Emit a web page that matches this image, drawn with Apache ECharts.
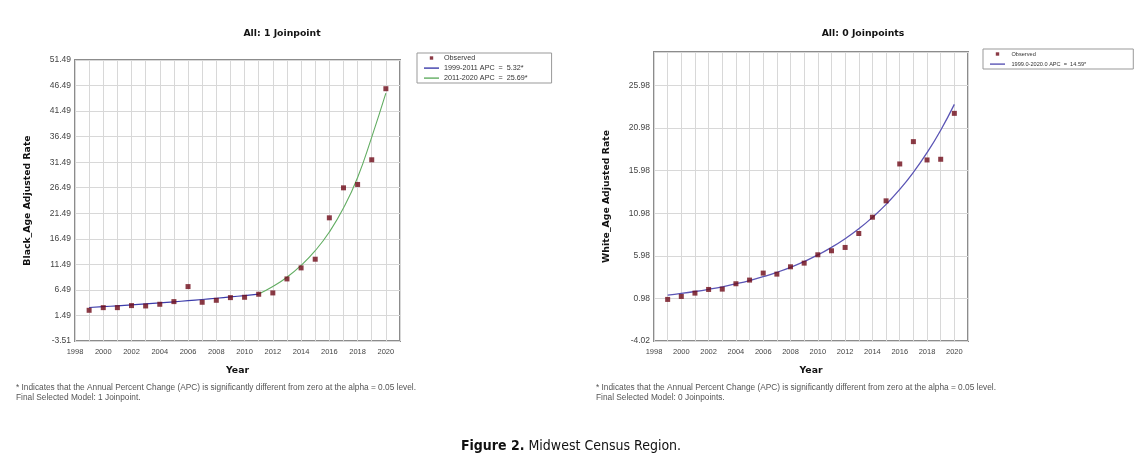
<!DOCTYPE html>
<html><head><meta charset="utf-8">
<script src="https://cdn.jsdelivr.net/npm/echarts@6/dist/echarts.min.js"></script>
<style>html,body{margin:0;padding:0;background:#fff}#c{width:1141px;height:459px}</style>
</head><body><div id="c"></div>
<script>
// ---- data ----
const years = [1999,2000,2001,2002,2003,2004,2005,2006,2007,2008,2009,2010,2011,2012,2013,2014,2015,2016,2017,2018,2019,2020];
const blackObserved = [2.50,3.02,3.02,3.42,3.35,3.68,4.20,7.14,4.07,4.46,4.98,5.05,5.64,5.90,8.64,10.80,12.50,20.60,26.47,27.13,31.96,45.87];
const blackFitYears1 = [1999,2000,2001,2002,2003,2004,2005,2006,2007,2008,2009,2010,2011];
const blackFit1 = [3.05,3.21,3.38,3.56,3.75,3.95,4.16,4.38,4.61,4.86,5.12,5.39,5.68];
const blackFitYears2 = [2011,2012,2013,2014,2015,2016,2017,2018,2019,2020];
const blackFit2 = [5.68,7.14,8.97,11.28,14.17,17.82,22.5,28.5,36.4,45.0];
const whiteObserved = [0.86,1.21,1.60,2.03,2.07,2.70,3.13,3.95,3.83,4.69,5.12,6.10,6.57,6.96,8.60,10.51,12.43,16.76,19.38,17.23,17.31,22.70];
const whiteFit = [1.36,1.56,1.79,2.05,2.34,2.69,3.08,3.53,4.04,4.63,5.31,6.08,6.97,7.99,9.15,10.49,12.02,13.77,15.78,18.08,20.72,23.75];
const blackFitName1 = '1999-2011 APC  =  5.32*';
const blackFitName2 = '2011-2020 APC  =  25.69*';
const whiteFitName = '1999.0-2020.0 APC  =  14.59*';
const leftTitle = 'All: 1 Joinpoint';
const rightTitle = 'All: 0 Joinpoints';
const leftYName = 'Black_Age Adjusted Rate';
const rightYName = 'White_Age Adjusted Rate';
const xName = 'Year';
const footLine1 = '* Indicates that the Annual Percent Change (APC) is significantly different from zero at the alpha = 0.05 level.';
const leftFoot2 = 'Final Selected Model: 1 Joinpoint.';
const rightFoot2 = 'Final Selected Model: 0 Joinpoints.';
const leftYRange = [-3.51, 51.49];
const rightYRange = [-4.02, 29.9];
const xRange = [1998, 2021];

const pair = (xs, ys) => xs.map((x, i) => [x, ys[i]]);
const dotIcon = 'path://M0 0M15 8M5.8 2.3h3.4v3.4h-3.4z';
const lineIcon = 'path://M0 0M15 8M0 3.4h15v1.4h-15z';
const obsColor = '#6e0a18';
const gridColor = '#d8d8d8';

function xAxis(gridIndex) {
  return {
    type: 'value', gridIndex, min: xRange[0], max: xRange[1], interval: 1,
    name: xName, nameLocation: 'middle', nameGap: 25,
    nameTextStyle: { fontFamily: 'DejaVu Sans', fontWeight: 'bold', fontSize: 9.3, color: '#111' },
    axisLine: { show: false }, axisTick: { show: false },
    axisLabel: { margin: 7, fontFamily: 'Liberation Sans', fontSize: 7.5, color: '#444',
      formatter: v => (Math.abs(v - Math.round(v)) < 1e-6 && Math.round(v) % 2 === 0) ? String(Math.round(v)) : '' },
    splitLine: { show: true, lineStyle: { color: gridColor, width: 1 } }
  };
}
function yAxis(gridIndex, range, name) {
  return {
    type: 'value', gridIndex, min: range[0], max: range[1], interval: 5,
    name, nameLocation: 'middle', nameGap: 43, nameRotate: 90,
    nameTextStyle: { fontFamily: 'DejaVu Sans', fontWeight: 'bold', fontSize: 9.3, color: '#111' },
    axisLine: { show: false }, axisTick: { show: false },
    axisLabel: { margin: 4, fontFamily: 'Liberation Sans', fontSize: 8.5, color: '#444', showMaxLabel: range[1] === leftYRange[1],
      formatter: v => v.toFixed(2) },
    splitLine: { show: true, lineStyle: { color: gridColor, width: 1 } }
  };
}
function legend(left, top, names, fontSize, itemWidth, padding) {
  return {
    orient: 'vertical', left, top, padding, itemGap: 2, itemWidth, itemHeight: 8,
    selectedMode: false, backgroundColor: '#fff', borderColor: '#999', borderWidth: 1,
    textStyle: { fontFamily: 'Liberation Sans', fontSize, color: '#333', lineHeight: 8 },
    data: [{ name: 'Observed', icon: dotIcon }].concat(names.map(n => ({ name: n, icon: lineIcon })))
  };
}
function txt(x, y, text, font, color, align) {
  return { type: 'text', x, y, style: { text, font, fill: color, align: align || 'left', verticalAlign: 'middle' } };
}

const chart = echarts.init(document.getElementById('c'), null, { renderer: 'canvas' });
chart.setOption({
  animation: false,
  backgroundColor: '#fff',
  grid: [
    { left: 75, top: 60, width: 325, height: 281, show: true, borderColor: '#8c8c8c', borderWidth: 2, backgroundColor: '#fff', containLabel: false, outerBoundsMode: 'none' },
    { left: 654, top: 52, width: 314, height: 289, show: true, borderColor: '#8c8c8c', borderWidth: 2, backgroundColor: '#fff', containLabel: false, outerBoundsMode: 'none' }
  ],
  xAxis: [xAxis(0), xAxis(1)],
  yAxis: [yAxis(0, leftYRange, leftYName), yAxis(1, rightYRange, rightYName)],
  legend: [
    legend(417, 53, [blackFitName1, blackFitName2], 7.2, 15, [1, 24, 1, 7]),
    legend(983, 49, [whiteFitName], 5.6, 18, [1, 47, 1, 7])
  ],
  series: [
    { name: blackFitName1, type: 'line', xAxisIndex: 0, yAxisIndex: 0, data: pair(blackFitYears1, blackFit1), smooth: true, symbol: 'none',
      lineStyle: { color: '#3c3caa', width: 1.2 }, itemStyle: { color: '#3c3caa' }, z: 2 },
    { name: blackFitName2, type: 'line', xAxisIndex: 0, yAxisIndex: 0, data: pair(blackFitYears2, blackFit2), smooth: true, symbol: 'none',
      lineStyle: { color: '#62ad62', width: 1.1 }, itemStyle: { color: '#62ad62' }, z: 2 },
    { name: 'Observed', type: 'scatter', xAxisIndex: 0, yAxisIndex: 0, data: pair(years, blackObserved), symbol: 'rect', symbolSize: 5,
      itemStyle: { color: obsColor }, z: 3 },
    { name: whiteFitName, type: 'line', xAxisIndex: 1, yAxisIndex: 1, data: pair(years, whiteFit), smooth: true, symbol: 'none',
      lineStyle: { color: '#5b55b5', width: 1.3 }, itemStyle: { color: '#5b55b5' }, z: 2 },
    { name: 'Observed', type: 'scatter', xAxisIndex: 1, yAxisIndex: 1, data: pair(years, whiteObserved), symbol: 'rect', symbolSize: 5,
      itemStyle: { color: obsColor }, z: 3 }
  ],
  graphic: [
    txt(282, 34, leftTitle, 'bold 9.3px "DejaVu Sans"', '#111', 'center'),
    txt(863, 34, rightTitle, 'bold 9.3px "DejaVu Sans"', '#111', 'center'),
    txt(16, 388, footLine1, '8.3px "Liberation Sans"', '#555'),
    txt(16, 398, leftFoot2, '8.3px "Liberation Sans"', '#555'),
    txt(596, 388, footLine1, '8.3px "Liberation Sans"', '#555'),
    txt(596, 398, rightFoot2, '8.3px "Liberation Sans"', '#555'),
    { type: 'text', x: 571, y: 446, style: { text: '{b|Figure 2.} Midwest Census Region.', align: 'center', verticalAlign: 'middle',
      font: '14px "Liberation Sans Narrow", "DejaVu Sans Condensed", sans-serif', fill: '#111',
      rich: { b: { fontWeight: 'bold', fontSize: 14, fontFamily: '"Liberation Sans Narrow", "DejaVu Sans Condensed", sans-serif', fill: '#111' } } } }
  ]
});
</script>
</body></html>
